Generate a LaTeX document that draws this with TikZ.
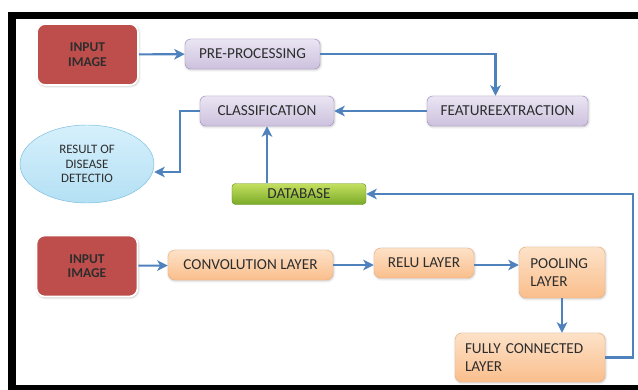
\documentclass[tikz,border=0pt]{standalone}
\usepackage{fontspec}
\setmainfont{Carlito}
\usepackage{xcolor}
\usepackage{tikz}
\usetikzlibrary{shapes.geometric, arrows.meta, positioning, calc, shadows.blur}
\definecolor{FlowBlue}{RGB}{79,129,189}
\definecolor{InRed}{RGB}{190,78,75}
\definecolor{LavTop}{RGB}{234,229,243}
\definecolor{LavBot}{RGB}{205,193,222}
\definecolor{LavLine}{RGB}{168,150,196}
\definecolor{OrTop}{RGB}{253,226,200}
\definecolor{OrBot}{RGB}{250,190,140}
\definecolor{OrLine}{RGB}{236,176,124}
\definecolor{GrTop}{RGB}{196,224,96}
\definecolor{GrBot}{RGB}{122,170,40}
\definecolor{GrLine}{RGB}{104,146,36}
\definecolor{SkyTop}{RGB}{214,240,252}
\definecolor{SkyFill}{RGB}{180,224,244}
\definecolor{SkyLine}{RGB}{120,188,220}
\definecolor{TextGray}{RGB}{45,45,45}

\begin{document}
\begin{tikzpicture}[
    x=0.03cm, y=-0.03cm,
    inbox/.style={draw=white, line width=1.5pt, rounded corners=7pt, fill=InRed,
                  minimum width=3.03cm, minimum height=1.83cm, align=center,
                  font=\fontsize{11.5}{12.5}\selectfont\bfseries, text=TextGray,
                  blur shadow={shadow blur steps=6, shadow xshift=0.6pt, shadow yshift=-0.8pt, shadow opacity=30}},
    lavbox/.style={draw=LavLine, rounded corners=5pt, top color=LavTop, bottom color=LavBot,
                   minimum height=0.9cm, font=\fontsize{13}{15}\selectfont, text=TextGray,
                   blur shadow={shadow blur steps=5, shadow xshift=0.5pt, shadow yshift=-0.8pt, shadow opacity=25}},
    orbox/.style={draw=OrLine, rounded corners=6pt, top color=OrTop, bottom color=OrBot,
                  minimum height=0.9cm, font=\fontsize{13}{15.5}\selectfont, text=TextGray,
                  blur shadow={shadow blur steps=5, shadow xshift=0.5pt, shadow yshift=-0.8pt, shadow opacity=25}},
    dbbox/.style={draw=GrLine, rounded corners=3pt, top color=GrTop, bottom color=GrBot,
                  minimum width=4.02cm, minimum height=0.63cm, font=\fontsize{13}{15}\selectfont, text=TextGray},
    outcome/.style={ellipse, draw=SkyLine, top color=SkyTop, bottom color=SkyFill, minimum width=4.02cm, minimum height=2.34cm,
                    align=center, inner sep=0pt, font=\fontsize{11}{12.5}\selectfont, text=TextGray},
    arrow/.style={-{Stealth[length=9pt, width=9pt, inset=2.5pt]}, line width=1.8pt, color=FlowBlue},
]
\useasboundingbox (0,0) rectangle (638,390);
% frame (open on the right)
\fill[black] (8,12) rectangle (638,19);
\fill[black] (8,12) rectangle (16,390);
\fill[black] (8,385) rectangle (638,390);

% upper flow
\node[inbox] (in1) at (87.5,54.5) {INPUT\\IMAGE};
\node[lavbox, minimum width=4.05cm] (pre) at (252.5,54) {PRE-PROCESSING};
\node[lavbox, minimum width=4.83cm] (feat) at (507.5,111) {FEATUREEXTRACTION};
\node[lavbox, minimum width=4.02cm] (cls) at (267,111) {CLASSIFICATION};
\node[outcome] (res) at (87,164) {RESULT OF\\DISEASE\\DETECTIO};
\node[dbbox] (db) at (299,194) {DATABASE};

% lower flow
\node[inbox] (in2) at (87,266) {INPUT\\IMAGE};
\node[orbox, minimum width=4.95cm] (conv) at (250.5,265) {CONVOLUTION LAYER};
\node[orbox, minimum width=3.0cm] (relu) at (424,263) {RELU LAYER};
\node[orbox, minimum width=2.58cm, minimum height=1.53cm, align=left, text width=1.9cm] (pool) at (562,272.5) {POOLING\\LAYER};
\node[orbox, minimum width=4.5cm, minimum height=1.47cm, align=left, text width=3.9cm] (fc) at (530,357.5) {FULLY CONNECTED\\LAYER};

\draw[arrow] (in1) -- (pre);
\draw[arrow] (pre.east) -| ([xshift=-0.36cm]feat.north);
\draw[arrow] (feat) -- (cls);
\draw[arrow] (cls.west) -- ++(-20,0) |- ([yshift=-0.24cm]res.east);
\draw[arrow] (cls.south |- db.north) -- (cls.south);

\draw[arrow] (in2) -- (conv);
\draw[arrow] (conv.east) -- (conv.east -| relu.west);
\draw[arrow] (relu.east |- conv.east) -- (conv.east -| pool.west);
\draw[arrow] (pool.south) -- (pool.south |- fc.north);
\draw[arrow] (fc.east) -- ++(28,0) |- (db.east);
\end{tikzpicture}
\end{document}
